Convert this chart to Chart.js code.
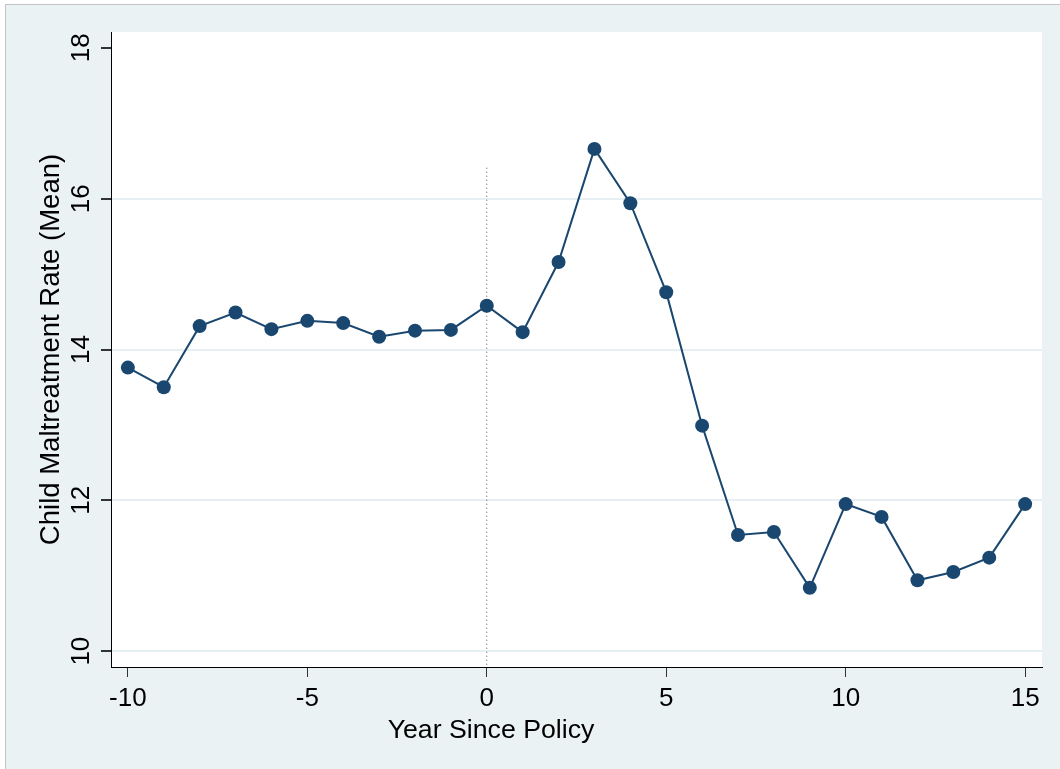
<!DOCTYPE html>
<html>
<head>
<meta charset="utf-8">
<script src="https://cdn.jsdelivr.net/npm/chart.js@4"></script>
<style>
  html, body { margin: 0; padding: 0; background: #ffffff; overflow: hidden; }
  #frame {
    position: absolute; left: 5px; top: 4px; width: 1060px; height: 770px;
    background: #eaf2f3; border-left: 1px solid #c4c4c4; border-top: 1px solid #c4c4c4;
  }
  #chart { position: absolute; left: 0; top: 0; }
  #x-title {
    position: absolute; left: 291px; width: 400px; top: 713px; text-align: center;
    font-family: "Liberation Sans", Arial, sans-serif; font-size: 26.7px; line-height: 32px; color: #000;
  }
</style>
</head>
<body>
<div id="frame"></div>
<canvas id="chart" width="1060" height="769"></canvas>
<div id="x-title">Year Since Policy</div>
<script>
const years = [-10, -9, -8, -7, -6, -5, -4, -3, -2, -1, 0, 1, 2, 3, 4, 5, 6, 7, 8, 9, 10, 11, 12, 13, 14, 15];
const meanRate = [13.76, 13.50, 14.31, 14.49, 14.27, 14.38, 14.35, 14.17, 14.25, 14.26, 14.58, 14.23, 15.16, 16.66, 15.94, 14.76, 12.99, 11.54, 11.58, 10.84, 11.95, 11.78, 10.94, 11.05, 11.24, 11.95];
const xTicks = [-10, -5, 0, 5, 10, 15];
const yTicks = [10, 12, 14, 16, 18];
const policyYear = 0;
const policyLineTop = 16.41;

const xMin = -10.47, xMax = 15.47;
const yMin = 9.79, yMax = 18.21;

const navy = '#1a476f';
const fontFamily = '"Liberation Sans", Arial, sans-serif';

const plotBackground = {
  id: 'plotBackground',
  beforeDraw(chart) {
    const { ctx, chartArea } = chart;
    ctx.save();
    ctx.fillStyle = '#ffffff';
    ctx.fillRect(chartArea.left, chartArea.top, chartArea.right - chartArea.left, chartArea.bottom - chartArea.top);
    ctx.restore();
  },
};

new Chart(document.getElementById('chart'), {
  type: 'line',
  data: {
    datasets: [
      {
        label: 'Policy',
        data: [{ x: policyYear, y: policyLineTop }, { x: policyYear, y: yMin }],
        borderColor: '#555555',
        borderWidth: 1,
        borderDash: [1, 3],
        pointRadius: 0,
        order: 2,
      },
      {
        label: 'Child Maltreatment Rate (Mean)',
        data: years.map((year, i) => ({ x: year, y: meanRate[i] })),
        borderColor: navy,
        backgroundColor: navy,
        borderWidth: 2,
        pointRadius: 7,
        pointBackgroundColor: navy,
        pointBorderColor: navy,
        pointBorderWidth: 0,
        tension: 0,
        order: 1,
      },
    ],
  },
  options: {
    responsive: false,
    animation: false,
    devicePixelRatio: 1,
    layout: { padding: { left: 0, top: 32, right: 18, bottom: 0 } },
    plugins: {
      legend: { display: false },
      tooltip: { enabled: false },
    },
    scales: {
      x: {
        type: 'linear',
        min: xMin,
        max: xMax,
        afterBuildTicks: scale => { scale.ticks = xTicks.map(value => ({ value })); },
        afterFit: scale => { scale.height = 102; },
        border: { color: '#000000', width: 1 },
        grid: { drawOnChartArea: false, tickLength: 10, tickColor: '#333333' },
        ticks: { color: '#000000', font: { family: fontFamily, size: 26 }, padding: 6, maxRotation: 0 },
      },
      y: {
        type: 'linear',
        min: yMin,
        max: yMax,
        afterBuildTicks: scale => { scale.ticks = yTicks.map(value => ({ value })); },
        afterFit: scale => { scale.width = 111; },
        border: { color: '#000000', width: 1 },
        grid: {
          color: ctx => (ctx.tick && ctx.tick.value === 18 ? 'rgba(0,0,0,0)' : '#e6eff1'),
          lineWidth: 2,
          tickLength: 10,
          tickColor: '#333333',
        },
        ticks: {
          color: '#000000',
          font: { family: fontFamily, size: 26 },
          minRotation: 90,
          maxRotation: 90,
          crossAlign: 'center',
          padding: 5,
        },
        title: {
          display: true,
          text: 'Child Maltreatment Rate (Mean)',
          color: '#000000',
          font: { family: fontFamily, size: 27.5 },
          padding: { top: 35, bottom: 0 },
        },
      },
    },
  },
  plugins: [plotBackground],
});
</script>
</body>
</html>
